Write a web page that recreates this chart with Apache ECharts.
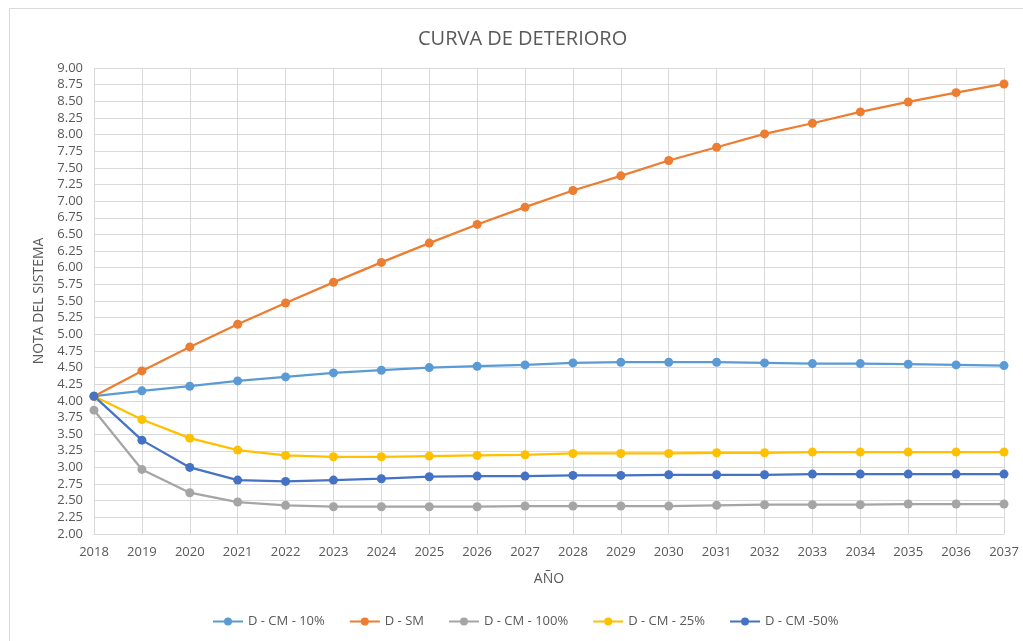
<!DOCTYPE html>
<html lang="es">
<head>
    <meta charset="UTF-8">
    <title>Curva de deterioro</title>
    <script src="https://cdn.jsdelivr.net/npm/echarts@6/dist/echarts.min.js"></script>
    <style>
        * { margin: 0; padding: 0; }
        body { background: #fff; }
        #chart { width: 1023px; height: 641px; }
    </style>
</head>
<body>
    <div id="chart"></div>
    <script>
        const years = ['2018', '2019', '2020', '2021', '2022', '2023', '2024', '2025', '2026', '2027',
            '2028', '2029', '2030', '2031', '2032', '2033', '2034', '2035', '2036', '2037'];

        const cm10 = [4.07, 4.15, 4.22, 4.30, 4.36, 4.42, 4.46, 4.50, 4.52, 4.54,
            4.57, 4.58, 4.58, 4.58, 4.57, 4.56, 4.56, 4.55, 4.54, 4.53];
        const sm = [4.07, 4.45, 4.81, 5.15, 5.47, 5.78, 6.08, 6.37, 6.65, 6.91,
            7.16, 7.38, 7.61, 7.81, 8.01, 8.17, 8.34, 8.49, 8.63, 8.76];
        const cm100 = [3.86, 2.97, 2.62, 2.48, 2.43, 2.41, 2.41, 2.41, 2.41, 2.42,
            2.42, 2.42, 2.42, 2.43, 2.44, 2.44, 2.44, 2.45, 2.45, 2.45];
        const cm25 = [4.07, 3.72, 3.44, 3.26, 3.18, 3.16, 3.16, 3.17, 3.18, 3.19,
            3.21, 3.21, 3.21, 3.22, 3.22, 3.23, 3.23, 3.23, 3.23, 3.23];
        const cm50 = [4.07, 3.41, 3.00, 2.81, 2.79, 2.81, 2.83, 2.86, 2.87, 2.87,
            2.88, 2.88, 2.89, 2.89, 2.89, 2.90, 2.90, 2.90, 2.90, 2.90];

        const seriesNames = ['D - CM - 10%', 'D - SM', 'D - CM - 100%', 'D - CM - 25%', 'D - CM -50%'];
        const seriesData = [cm10, sm, cm100, cm25, cm50];
        const colors = ['#5B9BD5', '#ED7D31', '#A5A5A5', '#FFC000', '#4472C4'];

        const font = '"Open Sans", "Noto Sans", sans-serif';
        const textColor = '#595959';

        const chart = echarts.init(document.getElementById('chart'), null, { renderer: 'canvas' });

        chart.setOption({
            animation: false,
            color: colors,
            textStyle: { fontFamily: font },
            // chart frame, only its top and left edges fall inside the picture
            graphic: [{
                type: 'rect',
                left: 7,
                top: 6,
                shape: { width: 1100, height: 700 },
                style: { fill: 'none', stroke: '#d9d9d9', lineWidth: 1 },
                silent: true
            }],
            title: {
                text: 'CURVA DE DETERIORO',
                left: 413,
                top: 24,
                textStyle: { fontFamily: font, fontSize: 20, fontWeight: 'normal', color: textColor }
            },
            grid: { left: 94, right: 19, top: 68, bottom: 107, containLabel: false },
            legend: {
                bottom: 8,
                left: 207,
                itemWidth: 30,
                itemHeight: 10,
                itemGap: 24,
                textStyle: { fontFamily: font, fontSize: 13, color: textColor },
                data: seriesNames
            },
            xAxis: {
                type: 'category',
                data: years,
                boundaryGap: false,
                name: 'AÑO',
                nameLocation: 'middle',
                nameGap: 38,
                nameTextStyle: { fontFamily: font, fontSize: 14, color: textColor },
                axisLine: { lineStyle: { color: '#d9d9d9' } },
                axisTick: { show: false },
                axisLabel: { fontFamily: font, fontSize: 13, color: textColor, margin: 12 },
                splitLine: { show: true, lineStyle: { color: '#d9d9d9', width: 1 } }
            },
            yAxis: {
                type: 'value',
                min: 2,
                max: 9,
                interval: 0.25,
                name: 'NOTA DEL SISTEMA',
                nameLocation: 'middle',
                nameGap: 47,
                nameTextStyle: { fontFamily: font, fontSize: 14, color: textColor },
                axisLine: { show: false },
                axisTick: { show: false },
                axisLabel: {
                    fontFamily: font, fontSize: 13, color: textColor, margin: 11,
                    formatter: v => v.toFixed(2)
                },
                splitLine: { lineStyle: { color: '#d9d9d9', width: 1 } }
            },
            series: seriesNames.map((name, i) => ({
                name: name,
                type: 'line',
                data: seriesData[i],
                symbol: 'circle',
                symbolSize: 9,
                lineStyle: { width: 2.25, color: colors[i] },
                itemStyle: { color: colors[i] }
            }))
        });
    </script>
</body>
</html>
